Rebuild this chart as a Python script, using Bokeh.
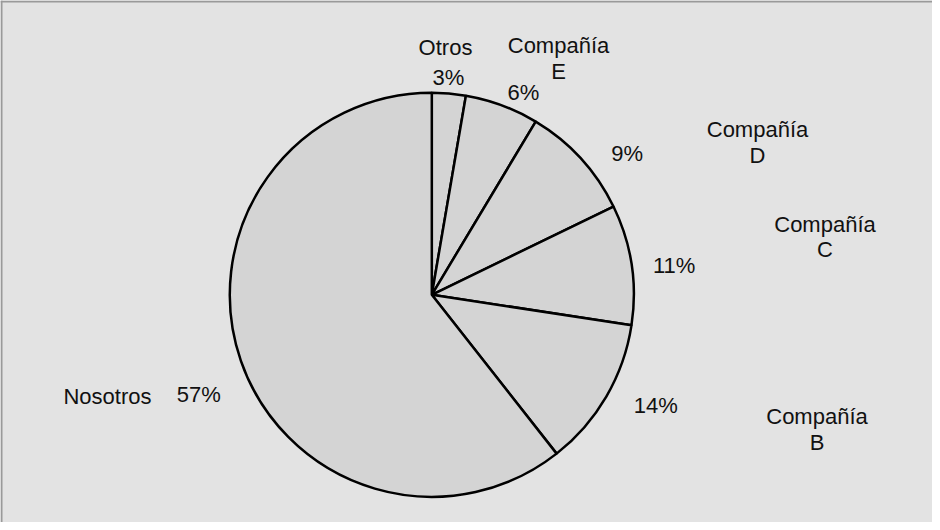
import math
from bokeh.plotting import figure
from bokeh.models import ColumnDataSource, Range1d
from bokeh.embed import file_html
from bokeh.resources import INLINE
from bokeh.core.properties import value

# ---- data ----
categories = ["Otros", "Compañía E", "Compañía D", "Compañía C", "Compañía B", "Nosotros"]
shares = [2.7, 5.9, 9.2, 9.6, 12.0, 60.6]          # slice sizes as drawn (%)
pct_labels = ["3%", "6%", "9%", "11%", "14%", "57%"]  # printed labels

# ---- layout ----
W, H = 932, 522
CX, CY = 431.3, 227.7      # pie centre (data units = pixels)
R = 202                    # pie radius in px
LINE = 25.5                # line pitch of two-line labels
# label baseline offsets from pie centre (dx right, dy down), px
name_offsets = [(13.7, -247.3), (126.7, -249.3), (325.7, -165.3),
                (393.2, -70.6), (385.2, 121.7), (-324.3, 101.7)]
pct_offsets = [(16.7, -217.3), (91.7, -202.3), (195.4, -141.6),
               (242.4, -29.0), (224.0, 110.4), (-233.0, 99.4)]

BG = "#e3e3e3"
PIE = "#d4d4d4"
FONT = value("Liberation Sans")
FSIZE = value("22px")

# wedge angles: start at 12 o'clock, go clockwise
total = sum(shares)
starts, ends = [], []
cum = 0.0
for s in shares:
    a0 = math.pi / 2 - 2 * math.pi * (cum + s) / total
    a1 = math.pi / 2 - 2 * math.pi * cum / total
    starts.append(a0)
    ends.append(a1)
    cum += s

wedges = ColumnDataSource(dict(
    x=[CX] * len(shares), y=[CY] * len(shares),
    start=starts, end=ends, cat=categories, share=shares))

p = figure(width=W, height=H, x_range=Range1d(0, W), y_range=Range1d(0, H),
           output_backend="svg", toolbar_location=None, min_border=0,
           x_axis_location=None, y_axis_location=None,
           background_fill_color=BG, border_fill_color=BG)
p.grid.visible = False
p.outline_line_color = None

# chart border (top and left)
p.segment(x0=[0, 1], y0=[H - 1, 0], x1=[W, 1], y1=[H - 1, H],
          line_color="#9a9a9a", line_width=2)

p.wedge(x="x", y="y", radius=R, radius_units="screen",
        start_angle="start", end_angle="end", direction="anticlock",
        fill_color=PIE, line_color="black", line_width=2.5, source=wedges)

# labels
tx, ty, tt = [], [], []
for name, (dx, dy) in zip(categories, name_offsets):
    for i, part in enumerate(name.split(" ")):
        tx.append(CX + dx)
        ty.append(CY - dy - i * LINE)
        tt.append(part)
for lab, (dx, dy) in zip(pct_labels, pct_offsets):
    tx.append(CX + dx)
    ty.append(CY - dy)
    tt.append(lab)

p.text(x="x", y="y", text="t", source=ColumnDataSource(dict(x=tx, y=ty, t=tt)),
       text_font=FONT, text_font_size=FSIZE, text_align="center",
       text_baseline="alphabetic", text_color="#111111")

open("out.html", "w").write(file_html(p, INLINE))
